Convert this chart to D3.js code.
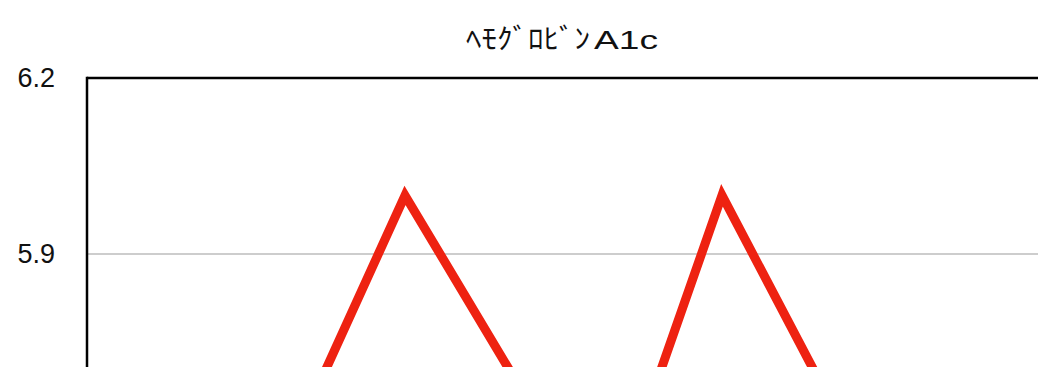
<!DOCTYPE html>
<html>
<head>
<meta charset="utf-8">
<script src="https://cdn.jsdelivr.net/npm/d3@7"></script>
<style>
  body { margin: 0; overflow: hidden; background: #fff; }
  .tick text { font-family: "Liberation Sans", Arial, sans-serif; font-size: 27px; fill: #111; }
</style>
</head>
<body>
<script>
// data: test dates and HbA1c values
var testDates = ["2013-09-06", "2014-02-13", "2014-09-01", "2014-12-27", "2015-05-30", "2015-10-20"];
var hba1c = [5.4, 6.0, 5.43, 6.0, 5.5, 5.6];
var yTicks = [5.9, 6.2]; // the only ones inside the window
var titleKana = "ﾍﾓｸﾞﾛﾋﾞﾝ";
var titleLatin = "A1c";

var svgWidth = 1038;
var svgHeight = 367;

var margin = { top: 78, left: 87 };
var width = 1038 - margin.left;
var height = 704; // runs below the visible window

var parse = d3.timeParse("%Y-%m-%d");
var start = parse("2013-04-01");

var data = testDates.map(function(d, i) {
  return { date: parse(d), value: hba1c[i] };
});

var svg = d3.select("body")
  .append("svg")
  .attr("width", svgWidth)
  .attr("height", svgHeight);

var chartGroup = svg.append("g")
  .attr("transform", `translate(${margin.left}, ${margin.top})`);

var xScale = d3.scaleTime()
  .domain([start, d3.timeDay.offset(start, width)])
  .range([0, width]);

var yScale = d3.scaleLinear()
  .domain([5.0, 6.2])
  .range([height, 0]);

// gridlines
chartGroup.append("g")
  .selectAll("line")
  .data(yTicks.filter(function(t) { return t < 6.2; }))
  .enter()
  .append("line")
  .attr("x1", 0)
  .attr("x2", width)
  .attr("y1", function(d) { return yScale(d); })
  .attr("y2", function(d) { return yScale(d); })
  .attr("stroke", "#bdbdbd")
  .attr("stroke-width", 1.5);

// y axis labels
var yAxis = d3.axisLeft(yScale)
  .tickValues(yTicks)
  .tickSize(0)
  .tickPadding(32)
  .tickFormat(d3.format(".1f"));

chartGroup.append("g")
  .attr("class", "y-axis")
  .call(yAxis)
  .call(function(g) { g.select(".domain").remove(); });

// line
var line = d3.line()
  .x(function(d) { return xScale(d.date); })
  .y(function(d) { return yScale(d.value); });

chartGroup.append("path")
  .datum(data)
  .attr("d", line)
  .attr("fill", "none")
  .attr("stroke", "#ee2211")
  .attr("stroke-width", 9)
  .attr("stroke-linejoin", "miter");

// frame: left axis and top border
chartGroup.append("line")
  .attr("x1", 0).attr("x2", width)
  .attr("y1", 0).attr("y2", 0)
  .attr("stroke", "#000")
  .attr("stroke-width", 2.5);

chartGroup.append("line")
  .attr("x1", 0).attr("x2", 0)
  .attr("y1", -1.25).attr("y2", height)
  .attr("stroke", "#000")
  .attr("stroke-width", 2.5);

// title (wide glyphs in the original)
var titleText = svg.append("text")
  .attr("y", 49)
  .style("font-family", "'Liberation Sans', 'Noto Sans CJK JP', sans-serif")
  .style("fill", "#111");

titleText.append("tspan")
  .attr("x", 466)
  .attr("textLength", 124)
  .attr("lengthAdjust", "spacingAndGlyphs")
  .style("font-size", "28px")
  .text(titleKana);

titleText.append("tspan")
  .attr("x", 594)
  .attr("textLength", 64)
  .attr("lengthAdjust", "spacingAndGlyphs")
  .style("font-size", "26px")
  .text(titleLatin);
</script>
</body>
</html>
